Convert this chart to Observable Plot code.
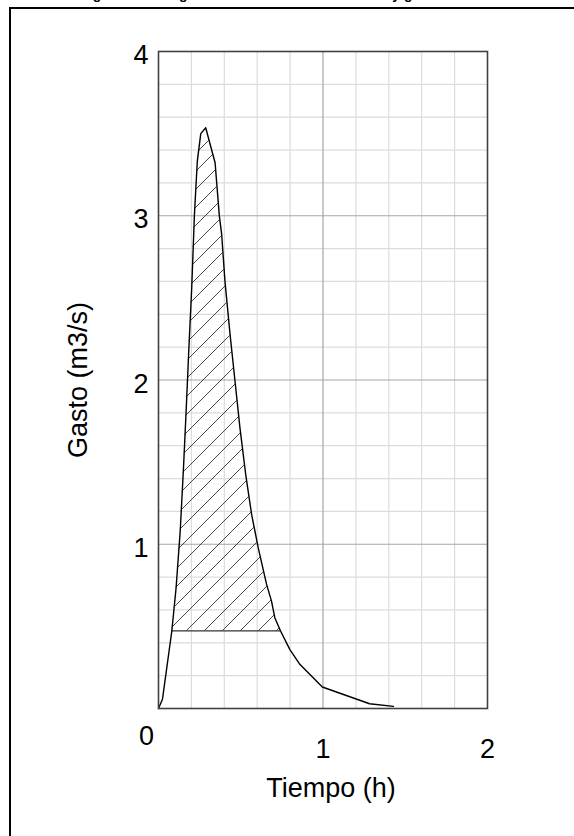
<!DOCTYPE html>
<html>
<head>
<meta charset="utf-8">
<script src="https://cdn.jsdelivr.net/npm/d3@7"></script>
<script src="https://cdn.jsdelivr.net/npm/@observablehq/plot@0.6"></script>
<style>
  body { margin: 0; background: #fff; font-family: "Liberation Sans", Arial, sans-serif; }
  #wrap { position: relative; width: 574px; height: 836px; overflow: hidden; background: #fff; }
  #title { position: absolute; left: 0; width: 594px; top: -14px; text-align: center; font-weight: bold; font-size: 14px; line-height: 16px; white-space: nowrap; }
  #border { position: absolute; left: 9px; top: 7px; width: 700px; height: 900px; border: 2px solid #000; }
  #chart { position: absolute; left: 0; top: 0; }
</style>
</head>
<body>
<div id="wrap">
  <div id="title">Figura 3. Hidrograma de escurrimiento directo y gasto excedente</div>
  <div id="border"></div>
  <div id="chart"></div>
</div>
<script>
// Hydrograph: time (h) and flow (m3/s)
const time = [0, 0.024, 0.081, 0.107, 0.132, 0.152, 0.168, 0.184, 0.202, 0.218, 0.236, 0.257, 0.287,
              0.344, 0.370, 0.384, 0.404, 0.435, 0.465, 0.495, 0.530, 0.566, 0.606, 0.657, 0.687, 0.707,
              0.742, 0.798, 0.859, 0.996, 1.283, 1.428];
const flow = [0, 0.056, 0.472, 0.735, 1.081, 1.466, 1.811, 2.177, 2.562, 2.998, 3.333, 3.500, 3.536,
              3.323, 2.998, 2.887, 2.602, 2.278, 1.994, 1.710, 1.426, 1.182, 0.979, 0.756, 0.654, 0.553,
              0.472, 0.360, 0.269, 0.131, 0.029, 0.013];
// threshold for hatched area
const baseFlow = 0.472;

// ticks / grid
const xTickLabels = [1, 2];
const yTickLabels = [1, 2, 3, 4];
const zeroLabel = ["0"];
const xMinor = [0.2, 0.4, 0.6, 0.8, 1.2, 1.4, 1.6, 1.8];
const xMajor = [1];
const yMinor = [0.2, 0.4, 0.6, 0.8, 1.2, 1.4, 1.6, 1.8, 2.2, 2.4, 2.6, 2.8, 3.2, 3.4, 3.6, 3.8];
const yMajor = [1, 2, 3];
const xTitle = "Tiempo (h)";
const yTitle = "Gasto (m3/s)";

const curve = time.map((t, i) => ({t, q: flow[i]}));
const hatched = curve.filter(d => d.q >= baseFlow);
const [hx1, hx2] = d3.extent(hatched, d => d.t);

const defs = () => {
  const g = d3.create("svg:defs");
  const p = g.append("pattern")
    .attr("id", "hatch")
    .attr("patternUnits", "userSpaceOnUse")
    .attr("x", 7).attr("y", 0)
    .attr("width", 18).attr("height", 18);
  p.append("path")
    .attr("d", "M-1,19 L19,-1 M-5,5 L5,-5 M13,23 L23,13")
    .attr("stroke", "#1a1a1a")
    .attr("stroke-width", 0.8)
    .attr("fill", "none");
  return g.node();
};

const FS = 27;
const chart = Plot.plot({
  width: 574,
  height: 836,
  marginLeft: 158,
  marginRight: 87,
  marginTop: 51,
  marginBottom: 128,
  x: {domain: [0, 2]},
  y: {domain: [0, 4]},
  style: {fontFamily: "'Liberation Sans', Arial, sans-serif", fontSize: FS + "px", color: "#000", background: "transparent", overflow: "visible"},
  marks: [
    defs,
    Plot.gridX(xMinor, {stroke: "#dcdcdc", strokeOpacity: 1, strokeWidth: 1.2}),
    Plot.gridY(yMinor, {stroke: "#dcdcdc", strokeOpacity: 1, strokeWidth: 1.2}),
    Plot.gridX(xMajor, {stroke: "#a6a6a6", strokeOpacity: 1, strokeWidth: 1.2}),
    Plot.gridY(yMajor, {stroke: "#a6a6a6", strokeOpacity: 1, strokeWidth: 1.2}),
    Plot.areaY(hatched, {x: "t", y1: baseFlow, y2: "q", fill: "url(#hatch)", curve: "linear"}),
    Plot.ruleY([baseFlow], {x1: hx1, x2: hx2, stroke: "#333", strokeWidth: 1.2}),
    Plot.line(curve, {x: "t", y: "q", stroke: "#000", strokeWidth: 1.4}),
    Plot.frame({stroke: "#404040", strokeWidth: 1.6}),
    Plot.axisY(yTickLabels, {tickSize: 0, tickPadding: 10, fontSize: FS, dy: 4, tickFormat: d => String(d), label: null}),
    Plot.axisX(xTickLabels, {tickSize: 0, tickPadding: 30, fontSize: FS, tickFormat: d => String(d), label: null}),
    Plot.text(zeroLabel, {x: () => 0, y: () => 0, text: d => d, dx: -12, dy: 28, fontSize: FS}),
    Plot.text([xTitle], {frameAnchor: "bottom", text: d => d, dx: 8, dy: 88, fontSize: FS, textAnchor: "middle"}),
    Plot.text([yTitle], {frameAnchor: "left", text: d => d, dx: -80, rotate: -90, fontSize: FS, textAnchor: "middle"})
  ]
});
document.getElementById("chart").appendChild(chart);
</script>
</body>
</html>
